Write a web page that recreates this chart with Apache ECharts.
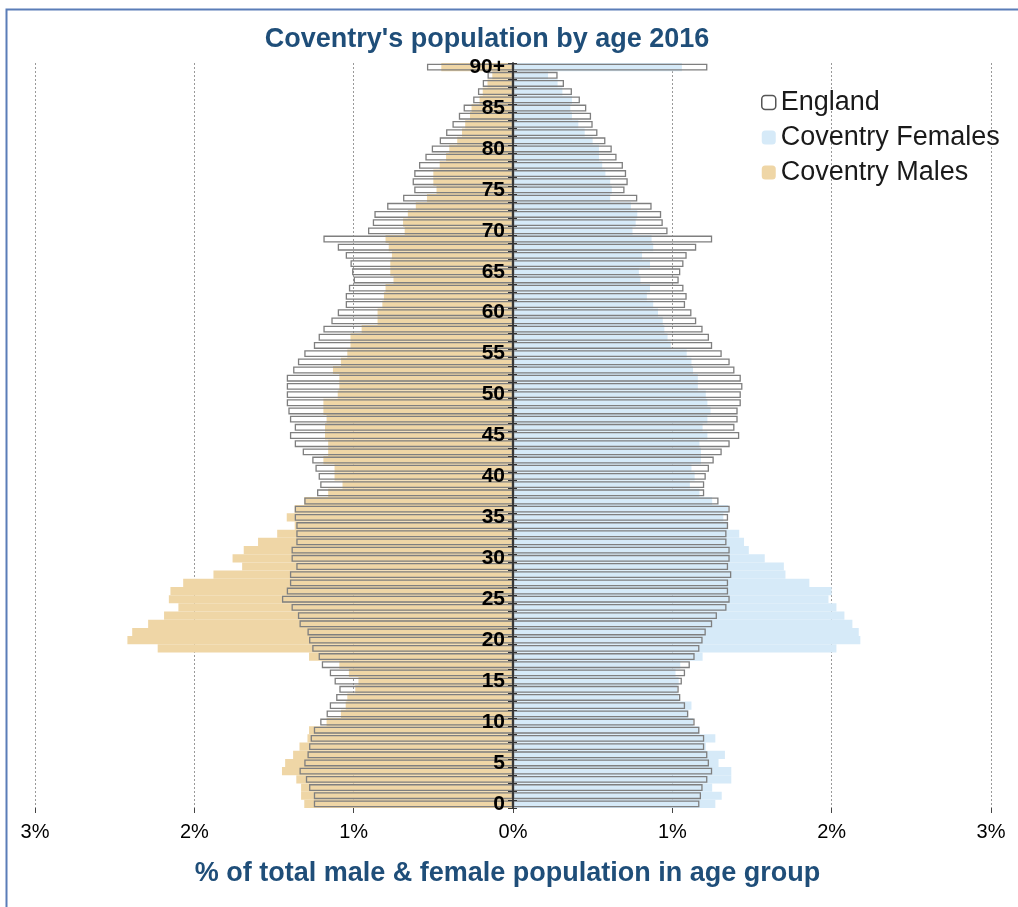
<!DOCTYPE html>
<html><head><meta charset="utf-8">
<script src="https://cdn.jsdelivr.net/npm/echarts@6/dist/echarts.min.js"></script>
<style>html,body{margin:0;padding:0;background:#fff}#c{width:1018px;height:907px}</style>
</head><body><div id="c"></div>
<script>
const ages = ['0','1','2','3','4','5','6','7','8','9','10','11','12','13','14','15','16','17','18','19',
'20','21','22','23','24','25','26','27','28','29','30','31','32','33','34','35','36','37','38','39',
'40','41','42','43','44','45','46','47','48','49','50','51','52','53','54','55','56','57','58','59',
'60','61','62','63','64','65','66','67','68','69','70','71','72','73','74','75','76','77','78','79',
'80','81','82','83','84','85','86','87','88','89','90+'];

const xTicks = [-3, -2, -1, 0, 1, 2, 3];

// Coventry males, % of male population (ages 0..90+)
const covMales = [1.31,1.33,1.33,1.36,1.45,1.43,1.38,1.34,1.29,1.28,
1.17,1.08,1.05,1.04,0.99,0.97,1.03,1.09,1.28,2.23,
2.42,2.39,2.29,2.19,2.10,2.16,2.15,2.07,1.88,1.70,
1.76,1.69,1.60,1.48,1.37,1.42,1.37,1.31,1.16,1.07,
1.12,1.12,1.19,1.16,1.16,1.18,1.18,1.17,1.19,1.19,
1.10,1.09,1.09,1.13,1.08,1.04,1.02,1.02,0.95,0.85,
0.85,0.82,0.81,0.80,0.75,0.77,0.77,0.76,0.78,0.80,
0.68,0.69,0.66,0.61,0.54,0.48,0.50,0.50,0.46,0.42,
0.40,0.35,0.32,0.30,0.27,0.26,0.21,0.19,0.16,0.13,0.45];

// Coventry females, % of female population
const covFemales = [1.27,1.31,1.25,1.37,1.37,1.29,1.33,1.21,1.27,1.17,
1.13,1.10,1.12,1.04,1.03,1.04,1.02,1.05,1.19,2.03,
2.18,2.17,2.13,2.08,2.03,1.98,2.00,1.86,1.71,1.70,
1.58,1.48,1.45,1.42,1.35,1.32,1.35,1.25,1.17,1.11,
1.14,1.12,1.18,1.18,1.17,1.22,1.19,1.22,1.24,1.22,
1.21,1.16,1.16,1.13,1.12,1.09,0.99,0.97,0.95,0.94,
0.91,0.88,0.84,0.86,0.80,0.79,0.86,0.81,0.88,0.87,
0.75,0.77,0.78,0.74,0.61,0.62,0.61,0.58,0.56,0.54,
0.54,0.50,0.45,0.41,0.37,0.36,0.37,0.31,0.28,0.22,1.06];

// England males
const engMales = [1.25,1.25,1.28,1.30,1.34,1.31,1.29,1.28,1.27,1.25,
1.21,1.17,1.15,1.11,1.09,1.12,1.15,1.20,1.22,1.26,
1.28,1.29,1.34,1.35,1.39,1.45,1.42,1.40,1.40,1.36,
1.39,1.39,1.36,1.36,1.36,1.37,1.37,1.31,1.23,1.21,
1.22,1.24,1.26,1.32,1.37,1.40,1.37,1.40,1.41,1.42,
1.42,1.42,1.42,1.38,1.35,1.31,1.25,1.22,1.19,1.14,
1.10,1.05,1.05,1.03,1.00,1.01,1.02,1.05,1.10,1.19,
0.91,0.88,0.87,0.79,0.69,0.62,0.63,0.62,0.59,0.55,
0.51,0.46,0.42,0.38,0.34,0.31,0.25,0.22,0.19,0.16,0.54];

// England females
const engFemales = [1.17,1.18,1.19,1.22,1.25,1.23,1.22,1.20,1.20,1.17,
1.14,1.10,1.08,1.05,1.04,1.06,1.08,1.11,1.14,1.17,
1.19,1.21,1.25,1.28,1.34,1.36,1.35,1.35,1.37,1.35,
1.36,1.36,1.34,1.34,1.35,1.35,1.36,1.29,1.20,1.20,
1.21,1.23,1.26,1.31,1.36,1.42,1.39,1.41,1.41,1.43,
1.43,1.44,1.43,1.39,1.36,1.31,1.25,1.23,1.19,1.15,
1.12,1.08,1.09,1.07,1.04,1.05,1.07,1.09,1.15,1.25,
0.97,0.94,0.93,0.87,0.78,0.70,0.72,0.71,0.69,0.65,
0.62,0.58,0.53,0.50,0.49,0.46,0.42,0.37,0.32,0.28,1.22];

const FONT = "'Liberation Sans', Arial, sans-serif";
const TAN = '#EFD6A6';
const BLUE = '#D6EAF8';
const NAVY = '#1F4E79';
const ENG_BORDER = '#7f7f7f';

const GRID_LEFT = 35, GRID_RIGHT = 27, W = 1018;
const halfWidth = (W - GRID_LEFT - GRID_RIGHT) / 2;

const chart = echarts.init(document.getElementById('c'));
chart.setOption({
  animation: false,
  backgroundColor: '#fff',
  textStyle: { fontFamily: FONT },
  graphic: [{
    type: 'rect', left: 4, top: 7, z: 100, silent: true,
    shape: { width: 1100, height: 1000 },
    style: { fill: 'none', stroke: '#5A7DB8', lineWidth: 2 }
  }],
  title: {
    text: "Coventry's population by age 2016",
    left: 487, top: 26, textAlign: 'center', padding: 0,
    textStyle: { fontSize: 27, fontWeight: 'bold', color: NAVY, fontFamily: FONT }
  },
  legend: {
    orient: 'vertical', left: 761, top: 89, padding: 0,
    itemWidth: 14, itemHeight: 14, itemGap: 8,
    textStyle: { fontSize: 27, color: '#1a1a1a', fontFamily: FONT },
    data: [
      { name: 'England', itemStyle: { color: '#fff', borderColor: '#555', borderWidth: 1.5 } },
      { name: 'Coventry Females' },
      { name: 'Coventry Males' }
    ]
  },
  grid: { left: GRID_LEFT, right: GRID_RIGHT, top: 63, bottom: 99 },
  xAxis: {
    type: 'value', min: xTicks[0], max: xTicks[xTicks.length - 1], interval: 1,
    axisLine: { onZero: false, lineStyle: { color: '#444', width: 1.5 } },
    axisTick: { show: true, length: 5, lineStyle: { color: '#444' } },
    axisLabel: { formatter: v => Math.abs(v) + '%', fontSize: 20, color: '#000', margin: 14, fontFamily: FONT },
    splitLine: { show: true, lineStyle: { type: [2, 2], color: '#999', width: 1 } },
    name: '% of total male & female population in age group',
    nameLocation: 'middle', nameGap: 52,
    nameTextStyle: { fontSize: 27, fontWeight: 'bold', color: NAVY, fontFamily: FONT, padding: [0, 11, 0, 0] }
  },
  yAxis: [
    {
      type: 'category', data: ages, z: 5, position: 'left', offset: -halfWidth,
      axisLine: { onZero: false, lineStyle: { color: '#333', width: 1.5 } },
      axisTick: { show: true, interval: 0, length: 5, lineStyle: { color: '#333' } },
      axisLabel: { interval: 4, fontSize: 21, fontWeight: 'bold', color: '#000', margin: 8, fontFamily: FONT },
      splitLine: { show: false }
    },
    {
      type: 'category', data: ages, z: 5, position: 'right', offset: -halfWidth,
      axisLine: { onZero: false, lineStyle: { color: '#333', width: 1.5 } },
      axisTick: { show: true, interval: 0, length: 4, lineStyle: { color: '#333' } },
      axisLabel: { show: false },
      splitLine: { show: false }
    }
  ],
  series: [
    { name: 'Coventry Males', type: 'bar', stack: 'cov', yAxisIndex: 0, barWidth: '100%',
      data: covMales.map(v => -v), itemStyle: { color: TAN } },
    { name: 'Coventry Females', type: 'bar', stack: 'cov', yAxisIndex: 0, barWidth: '100%',
      data: covFemales, itemStyle: { color: BLUE } },
    { name: 'England', type: 'bar', stack: 'eng', yAxisIndex: 1, barWidth: '84%',
      data: engMales.map(v => -v),
      itemStyle: { color: 'rgba(255,255,255,0)', borderColor: ENG_BORDER, borderWidth: 1.3 } },
    { name: 'England', type: 'bar', stack: 'eng', yAxisIndex: 1, barWidth: '84%',
      data: engFemales,
      itemStyle: { color: 'rgba(255,255,255,0)', borderColor: ENG_BORDER, borderWidth: 1.3 } }
  ]
});
</script></body></html>
